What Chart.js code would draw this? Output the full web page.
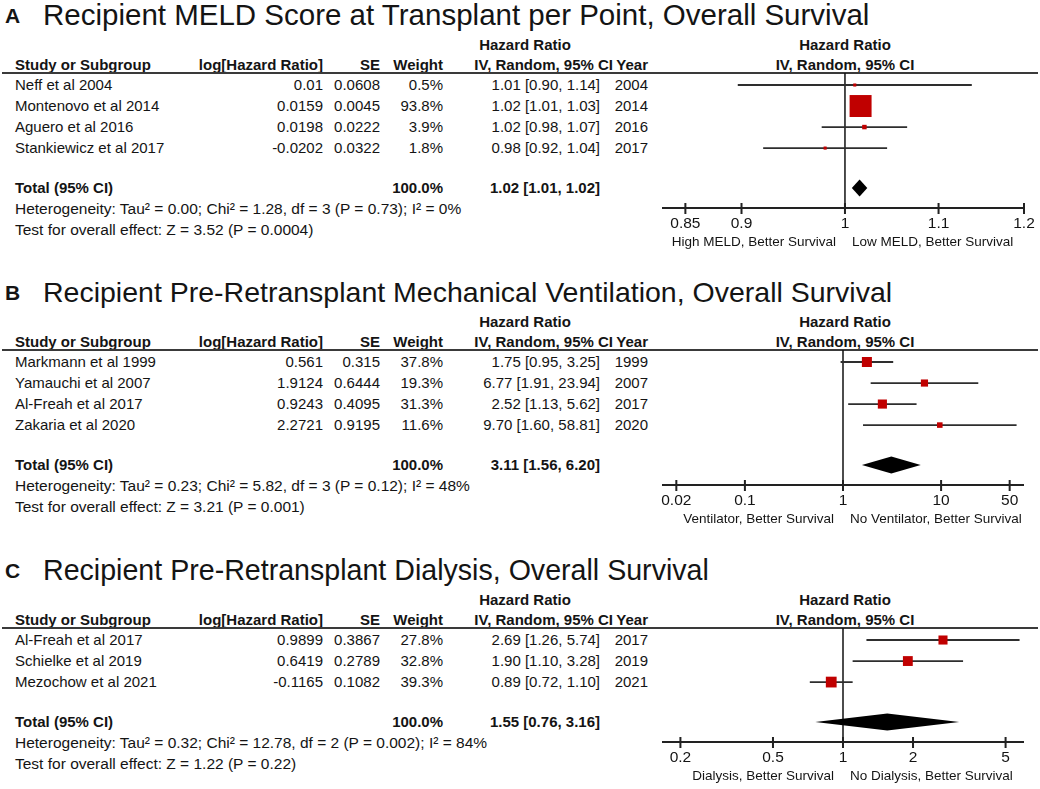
<!DOCTYPE html>
<html lang="en">
<head>
<meta charset="UTF-8">
<title>Forest plots</title>
<script src="https://cdn.jsdelivr.net/npm/chart.js@4.4.0/dist/chart.umd.min.js"></script>
<style>
  body { margin: 0; background: #fff; }
  #fig { position: relative; width: 1040px; height: 789px; overflow: hidden;
         font-family: "Liberation Sans", Arial, sans-serif; color: #141414; }
  .t { position: absolute; white-space: nowrap; font-size: 15px; line-height: 18px; }
  .b { font-weight: bold; }
  .s { font-size: 15.5px; }
  .ttl { line-height: 34px; }
  .let { font-size: 21px; line-height: 24px; font-weight: bold; }
  .rule { position: absolute; height: 2px; background: #3a3a3a; }
  canvas { position: absolute; }
</style>
</head>
<body>
<div id="fig"></div>
<script>
// ---- Panel A : MELD ----
var titleA = 'Recipient MELD Score at Transplant per Point, Overall Survival';
var studiesA = ['Neff et al 2004', 'Montenovo et al 2014', 'Aguero et al 2016', 'Stankiewicz et al 2017'];
var logHrA = [0.01, 0.0159, 0.0198, -0.0202];
var seA = [0.0608, 0.0045, 0.0222, 0.0322];
var weightA = [0.5, 93.8, 3.9, 1.8];
var hrA = [1.01, 1.02, 1.02, 0.98];
var loA = [0.90, 1.01, 0.98, 0.92];
var hiA = [1.14, 1.03, 1.07, 1.04];
var yearA = [2004, 2014, 2016, 2017];
var totalTextA = '1.02 [1.01, 1.02]';
var diamondA = [1.007, 1.015, 1.023];   // lo, point, hi as drawn
var hetA = 'Heterogeneity: Tau² = 0.00; Chi² = 1.28, df = 3 (P = 0.73); I² = 0%';
var testA = 'Test for overall effect: Z = 3.52 (P = 0.0004)';
var ticksA = [0.85, 0.9, 1, 1.1, 1.2];
var tickLabelsA = ['0.85', '0.9', '1', '1.1', '1.2'];
var favoursA = ['High MELD, Better Survival', 'Low MELD, Better Survival'];

// ---- Panel B : ventilation ----
var titleB = 'Recipient Pre-Retransplant Mechanical Ventilation, Overall Survival';
var studiesB = ['Markmann et al 1999', 'Yamauchi et al 2007', 'Al-Freah et al 2017', 'Zakaria et al 2020'];
var logHrB = [0.561, 1.9124, 0.9243, 2.2721];
var seB = [0.315, 0.6444, 0.4095, 0.9195];
var weightB = [37.8, 19.3, 31.3, 11.6];
var hrB = [1.75, 6.77, 2.52, 9.70];
var loB = [0.95, 1.91, 1.13, 1.60];
var hiB = [3.25, 23.94, 5.62, 58.81];
var yearB = [1999, 2007, 2017, 2020];
var totalTextB = '3.11 [1.56, 6.20]';
var diamondB = [1.56, 3.11, 6.20];
var hetB = 'Heterogeneity: Tau² = 0.23; Chi² = 5.82, df = 3 (P = 0.12); I² = 48%';
var testB = 'Test for overall effect: Z = 3.21 (P = 0.001)';
var ticksB = [0.02, 0.1, 1, 10, 50];
var tickLabelsB = ['0.02', '0.1', '1', '10', '50'];
var favoursB = ['Ventilator, Better Survival', 'No Ventilator, Better Survival'];

// ---- Panel C : dialysis ----
var titleC = 'Recipient Pre-Retransplant Dialysis, Overall Survival';
var studiesC = ['Al-Freah et al 2017', 'Schielke et al 2019', 'Mezochow et al 2021'];
var logHrC = [0.9899, 0.6419, -0.1165];
var seC = [0.3867, 0.2789, 0.1082];
var weightC = [27.8, 32.8, 39.3];
var hrC = [2.69, 1.90, 0.89];
var loC = [1.26, 1.10, 0.72];
var hiC = [5.74, 3.28, 1.10];
var yearC = [2017, 2019, 2021];
var totalTextC = '1.55 [0.76, 3.16]';
var diamondC = [0.76, 1.55, 3.16];
var hetC = 'Heterogeneity: Tau² = 0.32; Chi² = 12.78, df = 2 (P = 0.002); I² = 84%';
var testC = 'Test for overall effect: Z = 1.22 (P = 0.22)';
var ticksC = [0.2, 0.5, 1, 2, 5];
var tickLabelsC = ['0.2', '0.5', '1', '2', '5'];
var favoursC = ['Dialysis, Better Survival', 'No Dialysis, Better Survival'];

// layout of each panel (positions only)
var panels = [
  { top: 0,   letter: 'A', title: titleA, titleSize: 29.5, studies: studiesA, logHr: logHrA, se: seA, w: weightA, hr: hrA, lo: loA, hi: hiA, year: yearA,
    total: totalTextA, diamond: diamondA, het: hetA, test: testA, ticks: ticksA, tickLabels: tickLabelsA, favours: favoursA,
    xmin: 1 / 1.2, xmax: 1.2, sq: 2.27 },
  { top: 277, letter: 'B', title: titleB, titleSize: 28.5, studies: studiesB, logHr: logHrB, se: seB, w: weightB, hr: hrB, lo: loB, hi: hiB, year: yearB,
    total: totalTextB, diamond: diamondB, het: hetB, test: testB, ticks: ticksB, tickLabels: tickLabelsB, favours: favoursB,
    xmin: 1 / 70, xmax: 70, sq: 1.63 },
  { top: 555, letter: 'C', title: titleC, titleSize: 28.6, studies: studiesC, logHr: logHrC, se: seC, w: weightC, hr: hrC, lo: loC, hi: hiC, year: yearC,
    total: totalTextC, diamond: diamondC, het: hetC, test: testC, ticks: ticksC, tickLabels: tickLabelsC, favours: favoursC,
    xmin: 1 / 6, xmax: 6, sq: 1.72 }
];

var ROW = 21;        // row pitch in px
var FIRST = 85;      // first study row centre (relative to panel top)
var RULE = 73;       // header rule (relative to panel top)
var fig = document.getElementById('fig');

// put a text at (x, y-centre); align l / r / c
function txt(x, y, s, align, cls) {
  var d = document.createElement('div');
  d.className = 't ' + (cls || '');
  d.textContent = s;
  d.style.left = x + 'px';
  d.style.top = y + 'px';
  var tx = align === 'r' ? '-100%' : (align === 'c' ? '-50%' : '0');
  d.style.transform = 'translate(' + tx + ',-50%)';
  fig.appendChild(d);
  return d;
}

// draws the axis, the line of no effect, the ticks and the diamond
var forestPlugin = {
  id: 'forest',
  beforeDatasetsDraw: function (chart) {
    var ctx = chart.ctx, a = chart.chartArea, xs = chart.scales.x;
    var p = chart.options.plugins.forest;
    var x1 = xs.getPixelForValue(1);
    ctx.save();
    ctx.strokeStyle = '#111';
    ctx.lineWidth = 1.5;
    ctx.beginPath();
    ctx.moveTo(x1, a.top); ctx.lineTo(x1, a.bottom);
    ctx.stroke();
    // axis
    ctx.strokeStyle = '#222';
    ctx.lineWidth = 2;
    ctx.beginPath();
    ctx.moveTo(a.left, a.bottom); ctx.lineTo(a.right, a.bottom);
    p.ticks.forEach(function (v) {
      var x = xs.getPixelForValue(v);
      ctx.moveTo(x, a.bottom - 5); ctx.lineTo(x, a.bottom + 6);
    });
    ctx.stroke();
    ctx.fillStyle = '#141414';
    ctx.textBaseline = 'middle';
    ctx.textAlign = 'center';
    ctx.font = '15.5px "Liberation Sans", Arial, sans-serif';
    p.ticks.forEach(function (v, i) {
      ctx.fillText(p.tickLabels[i], xs.getPixelForValue(v), a.bottom + 16);
    });
    ctx.font = '13.5px "Liberation Sans", Arial, sans-serif';
    ctx.textAlign = 'right';
    ctx.fillText(p.favours[0], x1 - 9, a.bottom + 34);
    ctx.textAlign = 'left';
    ctx.fillText(p.favours[1], x1 + 7, a.bottom + 34);
    ctx.restore();
  },
  afterDatasetsDraw: function (chart) {
    var ctx = chart.ctx, xs = chart.scales.x, ys = chart.scales.y;
    var p = chart.options.plugins.forest;
    var y = ys.getPixelForValue(p.n + 0.9);
    ctx.save();
    ctx.fillStyle = '#000';
    ctx.beginPath();
    ctx.moveTo(xs.getPixelForValue(p.diamond[0]), y);
    ctx.lineTo(xs.getPixelForValue(p.diamond[1]), y - 8.5);
    ctx.lineTo(xs.getPixelForValue(p.diamond[2]), y);
    ctx.lineTo(xs.getPixelForValue(p.diamond[1]), y + 8.5);
    ctx.closePath();
    ctx.fill();
    ctx.restore();
  }
};

panels.forEach(function (p) {
  var T = p.top, n = p.studies.length;
  // titles
  txt(5, T + 16, p.letter, 'l', 'let');
  txt(43, T + 15, p.title, 'l', 'ttl').style.fontSize = p.titleSize + 'px';
  // header
  txt(525, T + 45, 'Hazard Ratio', 'c', 'b');
  txt(845, T + 45, 'Hazard Ratio', 'c', 'b');
  txt(15, T + 65, 'Study or Subgroup', 'l', 'b');
  txt(323, T + 65, 'log[Hazard Ratio]', 'r', 'b');
  txt(380, T + 65, 'SE', 'r', 'b');
  txt(443, T + 65, 'Weight', 'r', 'b');
  txt(613, T + 65, 'IV, Random, 95% CI', 'r', 'b');
  txt(648, T + 65, 'Year', 'r', 'b');
  txt(845, T + 65, 'IV, Random, 95% CI', 'c', 'b');
  var r = document.createElement('div');
  r.className = 'rule';
  r.style.left = '2px'; r.style.width = '1036px'; r.style.top = (T + RULE - 1) + 'px';
  fig.appendChild(r);
  // study rows
  p.studies.forEach(function (s, i) {
    var y = T + FIRST + ROW * i;
    txt(15, y, s, 'l');
    txt(323, y, String(p.logHr[i]), 'r');
    txt(380, y, String(p.se[i]), 'r');
    txt(443, y, p.w[i].toFixed(1) + '%', 'r');
    txt(600, y, p.hr[i].toFixed(2) + ' [' + p.lo[i].toFixed(2) + ', ' + p.hi[i].toFixed(2) + ']', 'r');
    txt(648, y, String(p.year[i]), 'r');
  });
  var yt = T + FIRST + ROW * (n + 0.9);
  txt(15, yt, 'Total (95% CI)', 'l', 'b');
  txt(443, yt, '100.0%', 'r', 'b');
  txt(600, yt, p.total, 'r', 'b');
  txt(15, yt + 21, p.het, 'l', 's');
  txt(15, yt + 42, p.test, 'l', 's');

  // forest plot
  var plotH = Math.round(ROW * (n + 1.85) + (FIRST - RULE));
  var cv = document.createElement('canvas');
  cv.width = 390; cv.height = plotH + 52;
  cv.style.left = '650px'; cv.style.top = (T + RULE) + 'px';
  fig.appendChild(cv);

  // whiskers and squares from the unrounded log HR and its SE
  var ciSets = p.logHr.map(function (l, i) {
    var e = 1.96 * p.se[i];
    return { type: 'line', data: [{ x: Math.exp(l - e), y: i }, { x: Math.exp(l + e), y: i }], showLine: true,
             borderColor: '#2e2e2e', borderWidth: 1.8, pointRadius: 0, order: 2, clip: false };
  });
  var squares = {
    type: 'scatter',
    data: p.logHr.map(function (l, i) { return { x: Math.exp(l), y: i }; }),
    pointStyle: 'rect',
    pointRadius: p.w.map(function (w) { return Math.max(2.2, p.sq * Math.sqrt(w) / 1.414); }),
    pointBackgroundColor: '#c00000', pointBorderWidth: 0, order: 1, clip: false
  };

  new Chart(cv, {
    type: 'scatter',
    data: { datasets: ciSets.concat([squares]) },
    options: {
      responsive: false, animation: false, events: [],
      layout: { autoPadding: false, padding: { left: 12, right: 16, top: 0, bottom: 52 } },
      plugins: {
        legend: { display: false }, tooltip: { enabled: false },
        forest: { n: n, ticks: p.ticks, tickLabels: p.tickLabels, favours: p.favours, diamond: p.diamond }
      },
      scales: {
        x: { type: 'logarithmic', min: p.xmin, max: p.xmax, display: false },
        y: { type: 'linear', min: -(FIRST - RULE) / ROW, max: n + 1.85, reverse: true, display: false }
      }
    },
    plugins: [forestPlugin]
  });
});
</script>
</body>
</html>
